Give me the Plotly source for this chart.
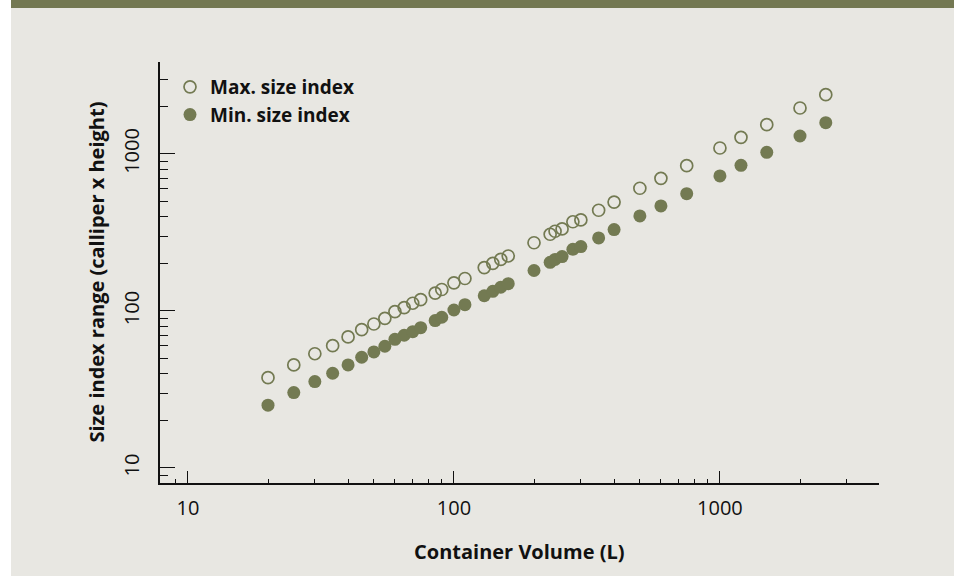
import plotly.graph_objects as go

# Container volume (L) and the size index range measured for each
volume_l = [20, 25, 30, 35, 40, 45, 50, 55, 60, 65, 70, 75, 85, 90, 100, 110,
            130, 140, 150, 160, 200, 230, 240, 255, 280, 300, 350, 400, 500,
            600, 750, 1000, 1200, 1500, 2000, 2500]
max_size_index = [37.6, 45.3, 53.4, 60.1, 68.3, 76, 82.6, 89.8, 99, 105, 112,
                  118, 130, 137, 151, 161, 189, 201, 213, 224, 272, 308, 322,
                  333, 370, 380, 438, 494, 605, 700, 843, 1092, 1276, 1537,
                  1963, 2387]
min_size_index = [25.1, 30.2, 35.5, 40.1, 45.3, 50.7, 54.8, 59.6, 66, 70,
                  73.8, 78.3, 86.8, 91.2, 101.4, 109.6, 125, 133.4, 141.6,
                  149.3, 181, 204, 213, 222, 247, 257, 292, 330, 403, 467, 559,
                  725, 847, 1025, 1302, 1583]

major_ticks = [10, 100, 1000]
tick_labels = ["10", "100", "1000"]
minor_ticks = [9, 20, 30, 40, 50, 60, 70, 80, 90,
               200, 300, 400, 500, 600, 700, 800, 900, 2000, 3000]

OLIVE = "#737A52"
PANEL = "#E8E7E2"
INK = "#111111"
FONT = "Open Sans"

W, H = 957, 576
L, R, T, B = 160, 78, 62, 93
pw, ph = W - L - R, H - T - B


def px_x(x):
    return (x - L) / pw


def px_y(y):
    return (H - B - y) / ph


fig = go.Figure()
fig.add_trace(go.Scatter(
    x=volume_l, y=max_size_index, mode="markers", name="Max. size index",
    marker=dict(symbol="circle-open", size=12, color=OLIVE,
                line=dict(width=1.7, color=OLIVE)),
))
fig.add_trace(go.Scatter(
    x=volume_l, y=min_size_index, mode="markers", name="Min. size index",
    marker=dict(symbol="circle", size=13, color=OLIVE),
))

axis_common = dict(
    type="log", showgrid=False, zeroline=False,
    showline=True, linecolor=INK, linewidth=1.7,
    ticks="inside", tickcolor=INK, tickwidth=1.4,
    tickmode="array", tickvals=major_ticks, ticktext=tick_labels,
    tickfont=dict(family=FONT, size=20, color=INK),
)

fig.update_xaxes(
    **axis_common, range=[0.895, 3.598], ticklen=12, ticklabelstandoff=6,
    minor=dict(ticks="inside", ticklen=4, tickcolor=INK, tickwidth=1.2,
               tickvals=minor_ticks, showgrid=False),
)
fig.update_yaxes(
    **axis_common, range=[0.904, 3.586], ticklen=15, tickangle=-90,
    ticklabelstandoff=11,
    minor=dict(ticks="inside", ticklen=8, tickcolor=INK, tickwidth=1.2,
               tickvals=minor_ticks, showgrid=False),
)

shapes = [
    # white margins either side of the panel
    dict(type="rect", xref="paper", yref="paper", x0=px_x(0), x1=px_x(11),
         y0=px_y(H), y1=px_y(0), fillcolor="white", line=dict(width=0),
         layer="below"),
    dict(type="rect", xref="paper", yref="paper", x0=px_x(954), x1=px_x(W),
         y0=px_y(H), y1=px_y(0), fillcolor="white", line=dict(width=0),
         layer="below"),
    # header strip
    dict(type="rect", xref="paper", yref="paper", x0=px_x(11), x1=px_x(954),
         y0=px_y(8), y1=px_y(0), fillcolor="#737852", line=dict(width=0),
         layer="below"),
]

annotations = [
    dict(text="<b>Container Volume (L)</b>", xref="paper", yref="paper",
         x=0.5, y=px_y(551), xanchor="center", yanchor="middle",
         showarrow=False, font=dict(family=FONT, size=20, color=INK)),
    dict(text="<b>Size index range (calliper x height)</b>", xref="paper",
         yref="paper", x=px_x(96), y=0.5, xanchor="center", yanchor="middle",
         textangle=-90, showarrow=False,
         font=dict(family=FONT, size=20, color=INK)),
]

fig.update_layout(
    width=W, height=H,
    margin=dict(l=L, r=R, t=T, b=B, autoexpand=False),
    paper_bgcolor=PANEL, plot_bgcolor=PANEL,
    shapes=shapes, annotations=annotations,
    showlegend=True,
    legend=dict(x=px_x(170), y=px_y(68), xanchor="left", yanchor="top",
                bgcolor="rgba(0,0,0,0)", itemwidth=30, tracegroupgap=0,
                font=dict(family=FONT, size=19, color=INK, weight="bold")),
)

fig.write_html("out.html")
